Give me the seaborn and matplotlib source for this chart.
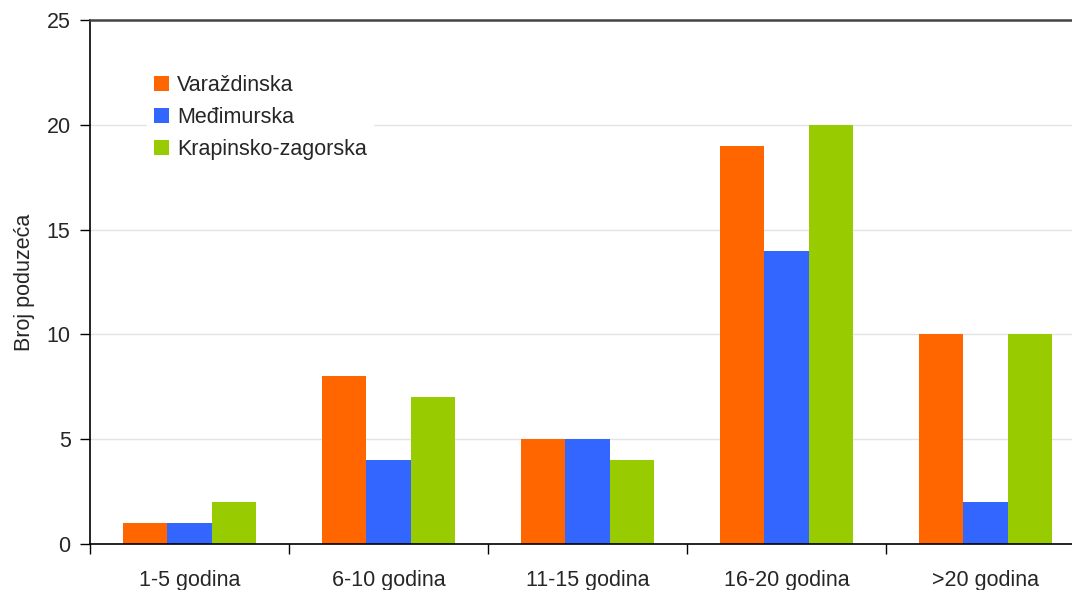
import matplotlib
matplotlib.use("Agg")
import matplotlib.pyplot as plt
import seaborn as sns
import pandas as pd

categories = ["1-5 godina", "6-10 godina", "11-15 godina", "16-20 godina", ">20 godina"]
series_names = ["Varaždinska", "Međimurska", "Krapinsko-zagorska"]
varazdinska = [1, 8, 5, 19, 10]
medimurska = [1, 4, 5, 14, 2]
krapinsko = [2, 7, 4, 20, 10]
colors = ["#FF6600", "#3366FF", "#99CC00"]

rows = []
for name, vals in zip(series_names, [varazdinska, medimurska, krapinsko]):
    for cat, v in zip(categories, vals):
        rows.append({"kategorija": cat, "zupanija": name, "broj": v})
df = pd.DataFrame(rows)

sns.set_style("white")
plt.rcParams["font.family"] = ["Liberation Sans", "DejaVu Sans"]

fig = plt.figure(figsize=(10.72, 5.9), dpi=100)
ax = fig.add_axes([90 / 1072, 46 / 590, 995 / 1072, 524 / 590])

sns.barplot(data=df, x="kategorija", y="broj", hue="zupanija",
            palette=colors, width=0.67, gap=0, saturation=1,
            edgecolor="none", linewidth=0, ax=ax, zorder=2)

ax.set_ylim(0, 25)
ax.set_xlim(-0.5, len(categories) - 0.5)
ax.set_yticks([0, 5, 10, 15, 20, 25])
ax.yaxis.grid(True, color="#E3E3E3", linewidth=1, zorder=0)
ax.set_axisbelow(True)

ax.set_xlabel("")
ax.set_ylabel("Broj poduzeća", fontsize=15.5, labelpad=8)
ax.tick_params(axis="y", labelsize=15.5, length=7, width=1, color="black",
               direction="out", left=True, pad=7)
ax.tick_params(axis="x", which="major", labelsize=15.5, length=0, pad=19)
ax.set_xticks([i - 0.5 for i in range(len(categories))], minor=True)
ax.tick_params(axis="x", which="minor", length=7, width=1, color="black",
               direction="out", bottom=True)

for s in ["left", "bottom"]:
    ax.spines[s].set_color("black")
    ax.spines[s].set_linewidth(1.2)
ax.spines["top"].set_color("#444444")
ax.spines["top"].set_linewidth(1.8)
ax.spines["right"].set_visible(False)

leg = ax.legend(loc="upper left", bbox_to_anchor=(136 / 1072, 1 - 57 / 590),
                bbox_transform=fig.transFigure, frameon=True, fancybox=False,
                edgecolor="none", facecolor="white", framealpha=1,
                fontsize=15.5, handlelength=0.7, handleheight=0.7,
                handletextpad=0.35, labelspacing=0.5, borderpad=0.35)

fig.savefig("out.png", dpi=100)
